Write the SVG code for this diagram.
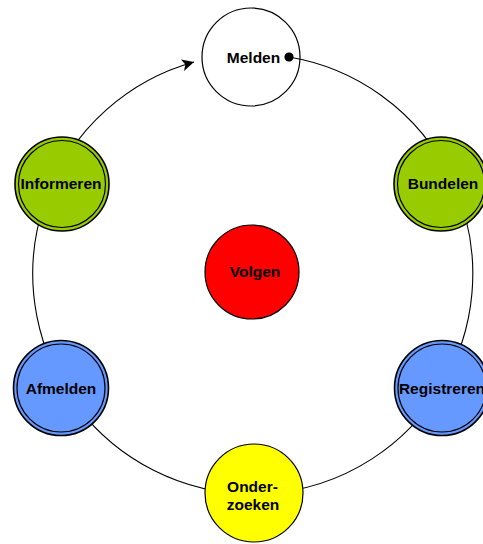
<svg xmlns="http://www.w3.org/2000/svg" width="483" height="544" viewBox="0 0 483 544">
<style>
.lbl{font-family:"Liberation Sans",Arial,sans-serif;font-weight:bold;font-size:15.5px;fill:#000;text-anchor:middle}
.outer{stroke:#000;stroke-width:1.6}
.inner{fill:none;stroke:#000;stroke-width:1.2}
.single{stroke:#000;stroke-width:1.2}
.conn{fill:none;stroke:#000;stroke-width:1.1}
</style>
<defs>
<marker id="arrow" viewBox="0 0 10 10" refX="10" refY="5" markerWidth="12" markerHeight="12" markerUnits="userSpaceOnUse" orient="auto">
<path d="M0,0 L10,5 L0,10 L2.5,5 z" fill="#000"/>
</marker>
<marker id="dot" viewBox="0 0 10 10" refX="5" refY="5" markerWidth="10" markerHeight="10" markerUnits="userSpaceOnUse" orient="auto">
<circle cx="5" cy="5" r="4.6" fill="#000"/>
</marker>
</defs>
<rect width="483" height="544" fill="#fff"/>
<g id="melden">
<circle cx="251" cy="57" r="49" fill="#fff" class="single"/>
<text class="lbl" x="253.5" y="63">Melden</text>
</g>
<g id="connectors">
<path class="conn" d="M289,57 A220,220 0 1,1 194,62" marker-start="url(#dot)" marker-end="url(#arrow)"/>
</g>
<g id="informeren">
<circle cx="62" cy="184" r="47" fill="#99CC00" class="outer"/>
<circle cx="62" cy="184" r="43.5" class="inner"/>
<text class="lbl" x="61" y="189">Informeren</text>
</g>
<g id="bundelen">
<circle cx="441" cy="184" r="47" fill="#99CC00" class="outer"/>
<circle cx="441" cy="184" r="43.5" class="inner"/>
<text class="lbl" x="443" y="189">Bundelen</text>
</g>
<g id="volgen">
<circle cx="252" cy="272" r="47" fill="#FF0000" class="single"/>
<text class="lbl" x="255" y="277">Volgen</text>
</g>
<g id="afmelden">
<circle cx="61" cy="388" r="47.5" fill="#6699FF" class="outer"/>
<circle cx="61" cy="388" r="44" class="inner"/>
<text class="lbl" x="61" y="394">Afmelden</text>
</g>
<g id="registreren">
<circle cx="442" cy="388" r="47.5" fill="#6699FF" class="outer"/>
<circle cx="442" cy="388" r="44" class="inner"/>
<text class="lbl" x="442" y="394">Registreren</text>
</g>
<g id="onderzoeken">
<circle cx="254" cy="493" r="49" fill="#FFFF00" class="single"/>
<text class="lbl" x="252.5" y="492">Onder-</text>
<text class="lbl" x="253" y="510">zoeken</text>
</g>
</svg>
